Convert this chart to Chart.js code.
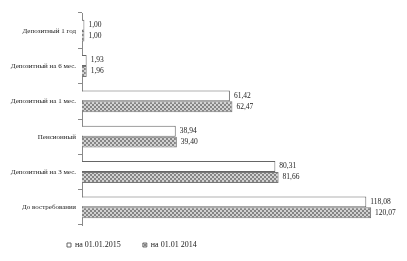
<!DOCTYPE html>
<html>
<head>
<meta charset="utf-8">
<script src="https://cdn.jsdelivr.net/npm/chart.js@4.4.1/dist/chart.umd.min.js"></script>
<style>
  html, body { margin: 0; padding: 0; background: #fff; }
  #wrap { width: 407px; height: 261px; }
</style>
</head>
<body>
<div id="wrap"><canvas id="depositChart" width="407" height="261"></canvas></div>
<script>
// categories, top to bottom
const categories = [
    'Депозитный 1 год',
    'Депозитный на 6 мес.',
    'Депозитный на 1 мес.',
    'Пенсионный',
    'Депозитный на 3 мес.',
    'До востребования'
];
const seriesNames = ['на 01.01.2015', 'на 01.01 2014'];
const values2015 = [1.00, 1.93, 61.42, 38.94, 80.31, 118.08];
const values2014 = [1.00, 1.96, 62.47, 39.40, 81.66, 120.07];

// checker fill like the hatched bars in the picture
function makePattern() {
    const c = document.createElement('canvas');
    c.width = 4;
    c.height = 4;
    const g = c.getContext('2d');
    g.fillStyle = '#d2d2d2';
    g.fillRect(0, 0, 4, 4);
    g.fillStyle = '#858585';
    g.fillRect(0, 0, 2, 2);
    g.fillRect(2, 2, 2, 2);
    return g.createPattern(c, 'repeat');
}
const hatch = makePattern();

const fontFamily = "'Liberation Serif', 'Times New Roman', serif";

// numbers next to bar ends, with comma decimals
const valueLabels = {
    id: 'valueLabels',
    afterDatasetsDraw(chart) {
        const ctx = chart.ctx;
        ctx.save();
        ctx.font = '7.5px ' + fontFamily;
        ctx.fillStyle = '#222';
        ctx.textAlign = 'left';
        ctx.textBaseline = 'middle';
        chart.data.datasets.forEach((ds, i) => {
            chart.getDatasetMeta(i).data.forEach((bar, j) => {
                const txt = ds.data[j].toFixed(2).replace('.', ',');
                ctx.fillText(txt, bar.x + 4, bar.y);
            });
        });
        ctx.restore();
    }
};

// legend sits under the axis, not centred on the page
const legendPlace = {
    id: 'legendPlace',
    afterLayout(chart) {
        chart.legend.left = 45;
        chart.legend.top = 219;
    }
};

const data = {
    labels: categories,
    datasets: [{
        label: seriesNames[0],
        data: values2015,
        backgroundColor: '#ffffff',
        borderColor: '#666666',
        borderWidth: 1
    }, {
        label: seriesNames[1],
        data: values2014,
        backgroundColor: hatch,
        borderColor: '#777777',
        borderWidth: 1
    }]
};

const config = {
    type: 'bar',
    data: data,
    options: {
        indexAxis: 'y',
        responsive: false,
        animation: false,
        categoryPercentage: 0.62,
        barPercentage: 1.0,
        layout: {
            padding: { left: 0, right: 12, top: 13, bottom: 6 }
        },
        scales: {
            x: {
                display: false,
                min: 0,
                max: 130
            },
            y: {
                afterFit: (scale) => { scale.width = 82; },
                border: { display: true, color: '#8a8a8a' },
                grid: {
                    drawOnChartArea: false,
                    offset: true,
                    tickLength: 4,
                    color: '#8a8a8a'
                },
                ticks: {
                    color: '#222',
                    padding: 2,
                    font: { family: fontFamily, size: 7 }
                }
            }
        },
        plugins: {
            tooltip: { enabled: false },
            legend: {
                position: 'bottom',
                align: 'start',
                maxHeight: 30,
                labels: {
                    boxWidth: 4,
                    boxHeight: 4,
                    padding: 22,
                    color: '#222',
                    font: { family: fontFamily, size: 8 }
                }
            }
        }
    },
    plugins: [valueLabels, legendPlace]
};

const myChart = new Chart(
    document.getElementById('depositChart').getContext('2d'),
    config
);
</script>
</body>
</html>
